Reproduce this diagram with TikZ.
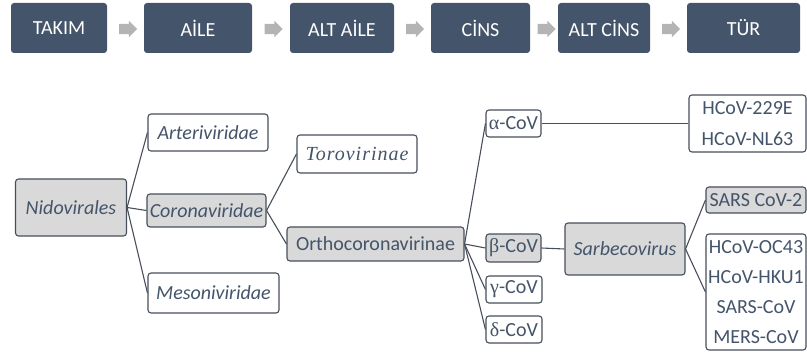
\documentclass[tikz,border=0pt]{standalone}
\usepackage{fontspec}
\setmainfont{Carlito}
\newfontfamily\grk{Liberation Serif}
\newfontfamily\toro{Liberation Serif}[LetterSpace=5]
\usetikzlibrary{shapes.arrows}
\definecolor{slate}{HTML}{44546A}
\definecolor{edge}{HTML}{474F5B}
\definecolor{boxgray}{HTML}{D9D9D9}
\definecolor{arrgray}{HTML}{B4B4B4}
\begin{document}
\begin{tikzpicture}[
  x=1pt, y=-1pt,
  hdr/.style={fill=slate, rounded corners=3pt, minimum height=50pt, inner sep=0pt, text=white, font=\fontsize{20}{22}\selectfont},
  harrow/.style={single arrow, fill=arrgray, inner sep=5pt, single arrow head extend=3pt, minimum height=18pt},
  tbox/.style={draw=edge, line width=1.1pt, fill=white, rounded corners=3pt, inner sep=0pt, text=slate, font=\fontsize{20}{22}\selectfont},
  gbox/.style={tbox, fill=boxgray},
  link/.style={draw=edge, line width=1.1pt},
]
  \useasboundingbox (0,0) rectangle (807,358);

  \node[hdr, minimum width=96pt] (takim) at (59,28) {TAKIM};
  \node[hdr, minimum width=108pt] (aile) at (198,28) {AİLE};
  \node[hdr, minimum width=104pt] (altaile) at (342,28) {ALT AİLE};
  \node[hdr, minimum width=99pt] (cins) at (480.5,28) {CİNS};
  \node[hdr, minimum width=92pt] (altcins) at (604,28) {ALT CİNS};
  \node[hdr, minimum width=113pt] (tur) at (743.5,28) {TÜR};
  \node[harrow] (a1) at (125.5,29) {};
  \node[harrow] (a2) at (271,29) {};
  \node[harrow] (a3) at (412.5,29) {};
  \node[harrow] (a4) at (544,29) {};
  \node[harrow] (a5) at (668.5,29) {};

  \node[gbox, minimum width=111pt, minimum height=57pt] (nido) at (71,207.5) {\itshape Nidovirales};
  \node[tbox, minimum width=120pt, minimum height=37pt] (arteri) at (208,132.5) {\itshape Arteriviridae};
  \node[gbox, minimum width=119pt, minimum height=33pt] (corona) at (206.5,210.5) {\itshape Coronaviridae};
  \node[tbox, minimum width=131pt, minimum height=40pt] (meso) at (213.5,293) {\itshape Mesoniviridae};
  \node[tbox, minimum width=120pt, minimum height=38pt] (toro) at (357,154) {\toro\itshape Torovirinae};
  \node[gbox, minimum width=177pt, minimum height=34pt] (ortho) at (375.5,244) {Orthocoronavirinae};
  \node[tbox, minimum width=55pt, minimum height=27pt] (alpha) at (513.5,123.5) {{\grk α}-CoV};
  \node[gbox, minimum width=55pt, minimum height=28pt] (beta) at (513.5,248) {{\grk β}-CoV};
  \node[tbox, minimum width=56pt, minimum height=27pt] (gamma) at (514,289.5) {{\grk γ}-CoV};
  \node[tbox, minimum width=56pt, minimum height=27pt] (delta) at (514,329.5) {{\grk δ}-CoV};
  \node[tbox, minimum width=117pt, minimum height=57pt, align=center, font=\fontsize{20}{31}\selectfont] (hcov) at (747.5,123.5) {HCoV-229E\\HCoV-NL63};
  \node[gbox, minimum width=120pt, minimum height=52pt] (sarbe) at (625,249) {\itshape Sarbecovirus};
  \node[gbox, minimum width=100pt, minimum height=26pt] (sars2) at (756,200) {SARS CoV-2};
  \node[tbox, minimum width=100pt, minimum height=116pt, align=center, font=\fontsize{20}{30}\selectfont] (others) at (756,292) {HCoV-OC43\\HCoV-HKU1\\SARS-CoV\\MERS-CoV};

  \draw[link] (nido.east) -- (arteri.west);
  \draw[link] (nido.east) -- (corona.west);
  \draw[link] (nido.east) -- (meso.west);
  \draw[link] (corona.east) -- (toro.west);
  \draw[link] (corona.east) -- (ortho.west);
  \draw[link] (ortho.east) -- (alpha.west);
  \draw[link] (ortho.east) -- (beta.west);
  \draw[link] (ortho.east) -- (gamma.west);
  \draw[link] (ortho.east) -- (delta.west);
  \draw[link] (alpha.east) -- (hcov.west);
  \draw[link] (beta.east) -- (sarbe.west);
  \draw[link] (sarbe.east) -- (sars2.west);
  \draw[link] (sarbe.east) -- (others.west);
\end{tikzpicture}
\end{document}
